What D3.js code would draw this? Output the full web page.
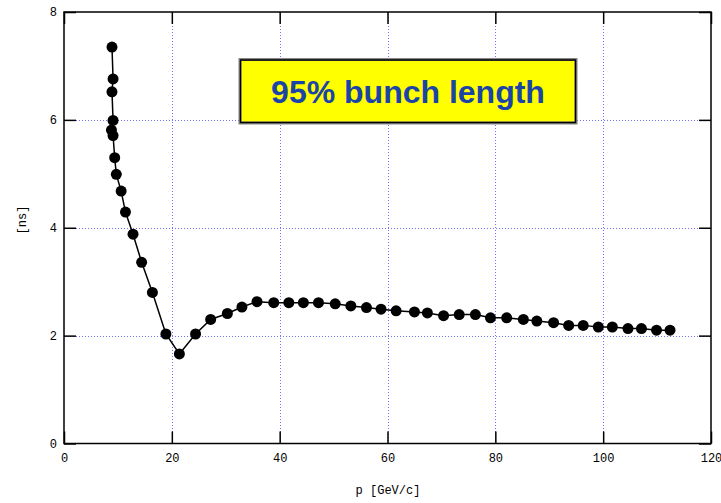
<!DOCTYPE html>
<html>
<head>
<meta charset="utf-8">
<script src="https://cdn.jsdelivr.net/npm/d3@7"></script>
<style>
  body { margin: 0; background: #fff; }
  svg { display: block; }
  .tick text { font-family: "Liberation Mono", "DejaVu Sans Mono", monospace; font-size: 12px; fill: #000; }
  .grid line { stroke: #7070ff; stroke-dasharray: 1,2; stroke-width: 1; shape-rendering: crispEdges; }
</style>
</head>
<body>
<div id="chart"></div>
<script>
// momentum p [GeV/c]
var pValues = [8.9, 9.1, 8.9, 9.1, 8.8, 9.1, 9.4, 9.7, 10.6, 11.4,
  12.8, 14.4, 16.4, 18.9, 21.4, 24.4, 27.2, 30.3, 33.0, 35.8,
  38.9, 41.7, 44.4, 47.2, 50.3, 53.2, 56.1, 58.8, 61.6, 65.0,
  67.4, 70.4, 73.3, 76.3, 79.1, 82.1, 85.2, 87.7, 90.8, 93.6,
  96.3, 99.1, 101.7, 104.6, 107.1, 109.9, 112.4];
// 95% bunch length [ns]
var lengthValues = [7.35, 6.76, 6.52, 5.99, 5.81, 5.71, 5.30, 4.99, 4.68, 4.29,
  3.88, 3.36, 2.80, 2.03, 1.66, 2.03, 2.30, 2.41, 2.53, 2.63,
  2.61, 2.61, 2.61, 2.61, 2.59, 2.55, 2.52, 2.49, 2.46, 2.44,
  2.42, 2.37, 2.39, 2.39, 2.33, 2.33, 2.30, 2.27, 2.24, 2.19,
  2.19, 2.16, 2.16, 2.13, 2.13, 2.10, 2.10];
var xTicks = [0, 20, 40, 60, 80, 100, 120];
var yTicks = [0, 2, 4, 6, 8];
var titleText = "95% bunch length";

var width = 721, height = 503;
var margin = {left: 64, right: 10, top: 12, bottom: 60};

var svg = d3.select("#chart").append("svg")
  .attr("width", width)
  .attr("height", height);

var x = d3.scaleLinear().domain([0, 120]).range([margin.left, 711]);
var y = d3.scaleLinear().domain([0, 8]).range([443.5, margin.top]);

// grid, snapped to the pixel grid so the dots stay sharp
function snap(v) { return Math.round(v) + 0.5; }
var grid = svg.append("g").attr("class", "grid");
grid.selectAll("line.v").data(xTicks.slice(1, -1)).enter().append("line")
  .attr("x1", function (d) { return snap(x(d)); }).attr("x2", function (d) { return snap(x(d)); })
  .attr("y1", y(0)).attr("y2", y(8));
grid.selectAll("line.h").data(yTicks.slice(1, -1)).enter().append("line")
  .attr("y1", function (d) { return snap(y(d)); }).attr("y2", function (d) { return snap(y(d)); })
  .attr("x1", x(0)).attr("x2", x(120));

// axes with inward ticks on all four sides
var tickLen = 12;
svg.append("g").attr("transform", "translate(0," + y(0) + ")")
  .call(d3.axisBottom(x).tickValues(xTicks).tickSizeInner(-tickLen).tickSizeOuter(0).tickPadding(10))
  .call(function (g) { g.select(".domain").remove(); });
svg.append("g").attr("transform", "translate(" + x(0) + ",0)")
  .call(d3.axisLeft(y).tickValues(yTicks).tickSizeInner(-tickLen).tickSizeOuter(0).tickPadding(7))
  .call(function (g) { g.select(".domain").remove(); });
svg.append("g").attr("transform", "translate(0," + y(8) + ")")
  .call(d3.axisTop(x).tickValues(xTicks).tickSizeInner(-tickLen).tickSizeOuter(0).tickFormat(""))
  .call(function (g) { g.select(".domain").remove(); });
svg.append("g").attr("transform", "translate(" + x(120) + ",0)")
  .call(d3.axisRight(y).tickValues(yTicks).tickSizeInner(-tickLen).tickSizeOuter(0).tickFormat(""))
  .call(function (g) { g.select(".domain").remove(); });
svg.selectAll(".tick line").attr("stroke", "#000").attr("stroke-width", 1.5);

svg.append("rect")
  .attr("x", x(0)).attr("y", y(8))
  .attr("width", x(120) - x(0)).attr("height", y(0) - y(8))
  .attr("fill", "none").attr("stroke", "#000").attr("stroke-width", 1.5);

// axis titles
svg.append("text")
  .attr("x", 388).attr("y", 494)
  .attr("text-anchor", "middle")
  .style("font-family", "'Liberation Mono', 'DejaVu Sans Mono', monospace")
  .style("font-size", "12px")
  .text("p [GeV/c]");
svg.append("text")
  .attr("transform", "translate(26,220) rotate(-90)")
  .attr("text-anchor", "middle")
  .style("font-family", "'Liberation Mono', 'DejaVu Sans Mono', monospace")
  .style("font-size", "12px")
  .text("[ns]");

// data line and markers
var points = pValues.map(function (p, i) { return [p, lengthValues[i]]; });
var line = d3.line()
  .x(function (d) { return x(d[0]); })
  .y(function (d) { return y(d[1]); });
svg.append("path").datum(points)
  .attr("d", line)
  .attr("fill", "none").attr("stroke", "#000").attr("stroke-width", 1.5);
svg.selectAll("circle.pt").data(points).enter().append("circle")
  .attr("class", "pt")
  .attr("cx", function (d) { return x(d[0]); })
  .attr("cy", function (d) { return y(d[1]); })
  .attr("r", 5.5)
  .attr("fill", "#000");

// title box
var box = svg.append("g");
box.append("rect")
  .attr("x", 240).attr("y", 59.5).attr("width", 336).attr("height", 63.5)
  .attr("fill", "#ffff00").attr("stroke", "#888").attr("stroke-width", 3);
box.append("rect")
  .attr("x", 240.5).attr("y", 60).attr("width", 335).attr("height", 62.5)
  .attr("fill", "none").attr("stroke", "#000").attr("stroke-width", 1.5);
box.append("text")
  .attr("x", 408).attr("y", 102.5)
  .attr("text-anchor", "middle")
  .style("font-family", "'Liberation Sans', Arial, sans-serif")
  .style("font-weight", "bold")
  .style("font-size", "32px")
  .attr("fill", "#1a44a8")
  .text(titleText);
</script>
</body>
</html>
